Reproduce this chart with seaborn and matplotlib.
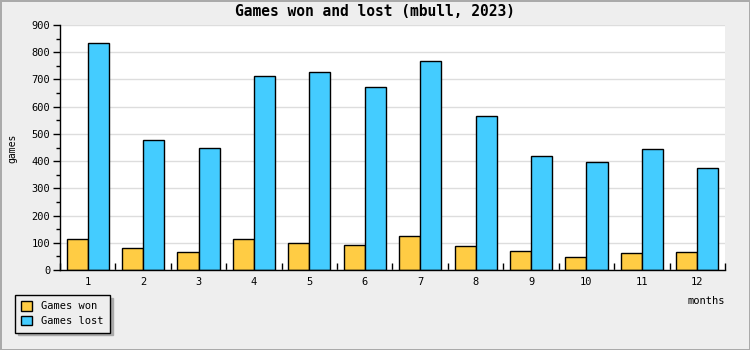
import matplotlib
matplotlib.use("Agg")
import matplotlib.pyplot as plt
import seaborn as sns
import pandas as pd
import numpy as np
from matplotlib.ticker import MultipleLocator, FixedLocator

months = ["1", "2", "3", "4", "5", "6", "7", "8", "9", "10", "11", "12"]
games_won = [113, 80, 65, 113, 99, 92, 125, 88, 71, 48, 62, 66]
games_lost = [834, 478, 448, 713, 727, 672, 768, 566, 418, 396, 445, 374]
series_names = ["Games won", "Games lost"]
colors = ["#FFCC44", "#44CCFF"]

df = pd.DataFrame({
    "month": months * 2,
    "games": games_won + games_lost,
    "series": [series_names[0]] * len(months) + [series_names[1]] * len(months),
})

sns.set_theme(style="white")
plt.rcParams["font.family"] = ["DejaVu Sans Mono"]
plt.rcParams["text.color"] = "black"
plt.rcParams["xtick.color"] = "black"
plt.rcParams["ytick.color"] = "black"
plt.rcParams["axes.labelcolor"] = "black"

fig = plt.figure(figsize=(7.5, 3.5), dpi=100)
fig.patch.set_facecolor("#EEEEEE")
fig.patch.set_edgecolor("#AAAAAA")
fig.patch.set_linewidth(2)
ax = fig.add_axes([60 / 750, 1 - 270 / 350, 665 / 750, 245 / 350])
ax.set_facecolor("white")

sns.barplot(data=df, x="month", y="games", hue="series", order=months,
            hue_order=series_names, palette=colors, width=0.76,
            edgecolor="black", linewidth=1, saturation=1, ax=ax, legend=True)

ax.set_xlim(-0.5, 11.5)
ax.set_ylim(0, 900)
ax.yaxis.set_major_locator(MultipleLocator(100))
ax.yaxis.set_minor_locator(MultipleLocator(50))
ax.grid(axis="y", which="major", color="#DDDDDD", linewidth=1)
ax.set_axisbelow(True)

for s in ["top", "right"]:
    ax.spines[s].set_visible(False)
for s in ["left", "bottom"]:
    ax.spines[s].set_color("black")
    ax.spines[s].set_linewidth(1)

ax.tick_params(axis="y", which="major", direction="out", length=5, width=1,
               color="black", labelcolor="black", labelsize=7.5, pad=2, left=True)
ax.tick_params(axis="y", which="minor", direction="out", length=3, width=1,
               color="black", left=True)
ax.xaxis.set_minor_locator(FixedLocator(np.arange(-0.5, 12, 1.0)))
ax.tick_params(axis="x", which="major", length=0, labelsize=7.5, pad=5,
               labelcolor="black")
ax.tick_params(axis="x", which="minor", direction="in", length=5, width=1,
               color="black", bottom=True)

ax.set_xlabel("")
ax.set_ylabel("")
fig.text(12 / 750, 1 - 148 / 350, "games", rotation=90, ha="center", va="center",
         fontsize=7, color="black")
fig.text(725 / 750, 1 - 301 / 350, "months", ha="right", va="center",
         fontsize=7.5, color="black")
fig.text(375 / 750, 1 - 12 / 350, "Games won and lost (mbull, 2023)", ha="center",
         va="center", fontsize=10.5, fontweight="bold", color="black")

handles, labels = ax.get_legend_handles_labels()
ax.get_legend().remove()
leg = fig.legend(handles, labels, loc="upper left",
                 bbox_to_anchor=(15 / 750, 1 - 295 / 350), frameon=True,
                 fancybox=False, shadow={"color": "#AAAAAA", "alpha": 1},
                 edgecolor="black", facecolor="#EEEEEE", framealpha=1,
                 fontsize=7.5, handlelength=1.0, handleheight=1.0,
                 handletextpad=0.9, borderpad=0.6, labelspacing=0.45,
                 borderaxespad=0)
leg.get_frame().set_linewidth(1)
for t in leg.get_texts():
    t.set_color("black")

fig.savefig("out.png", dpi=100, facecolor=fig.get_facecolor(),
            edgecolor=fig.get_edgecolor())
